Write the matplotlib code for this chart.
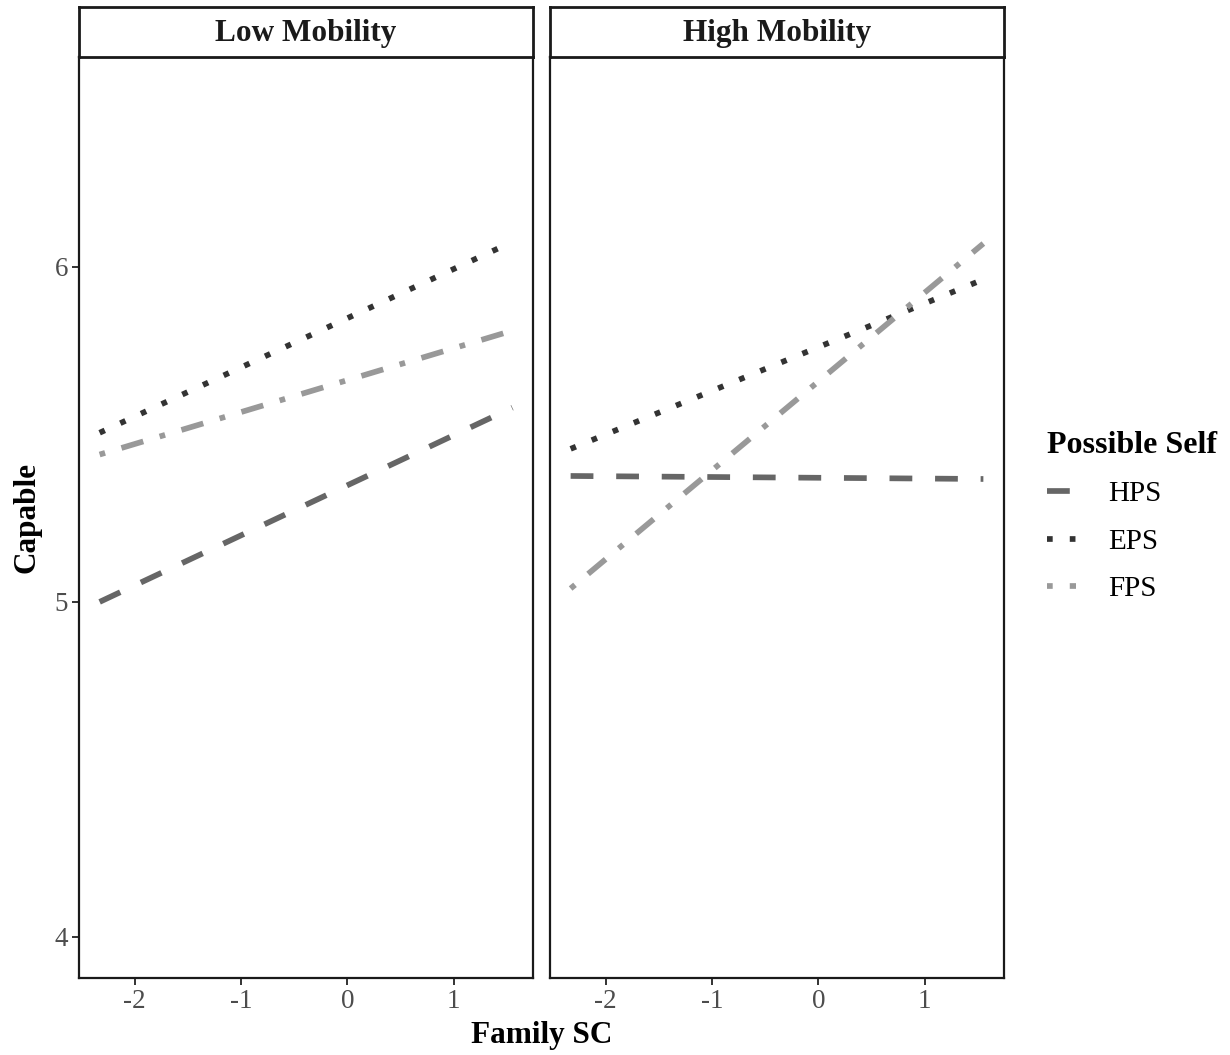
import matplotlib
matplotlib.use("Agg")
import matplotlib.pyplot as plt
from matplotlib.lines import Line2D

plt.rcParams['font.family'] = ['Liberation Serif', 'DejaVu Serif']

# data (simple slopes at low/high Family SC)
panels = ["Low Mobility", "High Mobility"]
series = ["HPS", "EPS", "FPS"]
family_sc = [-2.33, 1.55]
hps_low = [5.00, 5.58]
eps_low = [5.505, 6.075]
fps_low = [5.44, 5.81]
hps_high = [5.376, 5.367]
eps_high = [5.457, 5.963]
fps_high = [5.04, 6.07]

panel_values = [
    {"HPS": hps_low, "EPS": eps_low, "FPS": fps_low},
    {"HPS": hps_high, "EPS": eps_high, "FPS": fps_high},
]

colors = {"HPS": "#666666", "EPS": "#333333", "FPS": "#999999"}
styles = {"HPS": (0, (4, 4)), "EPS": (0, (1, 3)), "FPS": (0, (1, 3, 4, 3))}
lw = 4.1

W, H = 1230, 1055
fig = plt.figure(figsize=(W / 100, H / 100), dpi=100)

def fx(px):
    return px / W

def fy(py):
    return 1 - py / H

panel_left = [79, 550]
panel_w = 454
top, bottom = 57, 978
strip_top = 7

axes = []
for i, name in enumerate(panels):
    ax = fig.add_axes([fx(panel_left[i]), fy(bottom), panel_w / W, (bottom - top) / H])
    for s in series:
        ax.plot(family_sc, panel_values[i][s], color=colors[s], linestyle=styles[s],
                linewidth=lw, dash_capstyle='butt', solid_capstyle='butt')
    ax.set_xlim(-2.524, 1.744)
    ax.set_ylim(3.877, 6.627)
    ax.set_xticks([-2, -1, 0, 1])
    ax.set_xticklabels(["-2", "-1", "0", "1"])
    ax.set_yticks([4, 5, 6])
    if i == 0:
        ax.set_yticklabels(["4", "5", "6"])
    else:
        ax.tick_params(axis='y', left=False, labelleft=False)
    ax.tick_params(colors='#333333', labelcolor='#4D4D4D', labelsize=19.5,
                   width=1.4, length=5, pad=3)
    for sp in ax.spines.values():
        sp.set_linewidth(1.6)
        sp.set_color('#1a1a1a')
    axes.append(ax)

    # facet strip
    sax = fig.add_axes([fx(panel_left[i]), fy(top), panel_w / W, (top - strip_top) / H])
    sax.set_xticks([])
    sax.set_yticks([])
    for sp in sax.spines.values():
        sp.set_linewidth(2)
        sp.set_color('#1a1a1a')
    sax.text(0.5, 0.48, name, ha='center', va='center', fontsize=22.5,
             fontweight='bold', color='#1a1a1a', transform=sax.transAxes)

fig.text(fx(27), fy(517), "Capable", rotation=90, ha='center', va='center',
         fontsize=22.5, fontweight='bold')
fig.text(fx(542), fy(1035), "Family SC", ha='center', va='center',
         fontsize=22.5, fontweight='bold')

handles = [Line2D([0], [0], color=colors[s], linestyle=styles[s], linewidth=lw,
                  dash_capstyle='butt') for s in series]
leg = fig.legend(handles, series, title="Possible Self", loc='upper left',
                 bbox_to_anchor=(fx(1047), fy(431)), frameon=False,
                 fontsize=21, handlelength=1.0, handletextpad=1.1, labelspacing=0.72,
                 alignment='left', borderpad=0, borderaxespad=0)
leg.get_title().set_fontsize(23)
leg.get_title().set_fontweight('bold')

fig.savefig("out.png", dpi=100)
